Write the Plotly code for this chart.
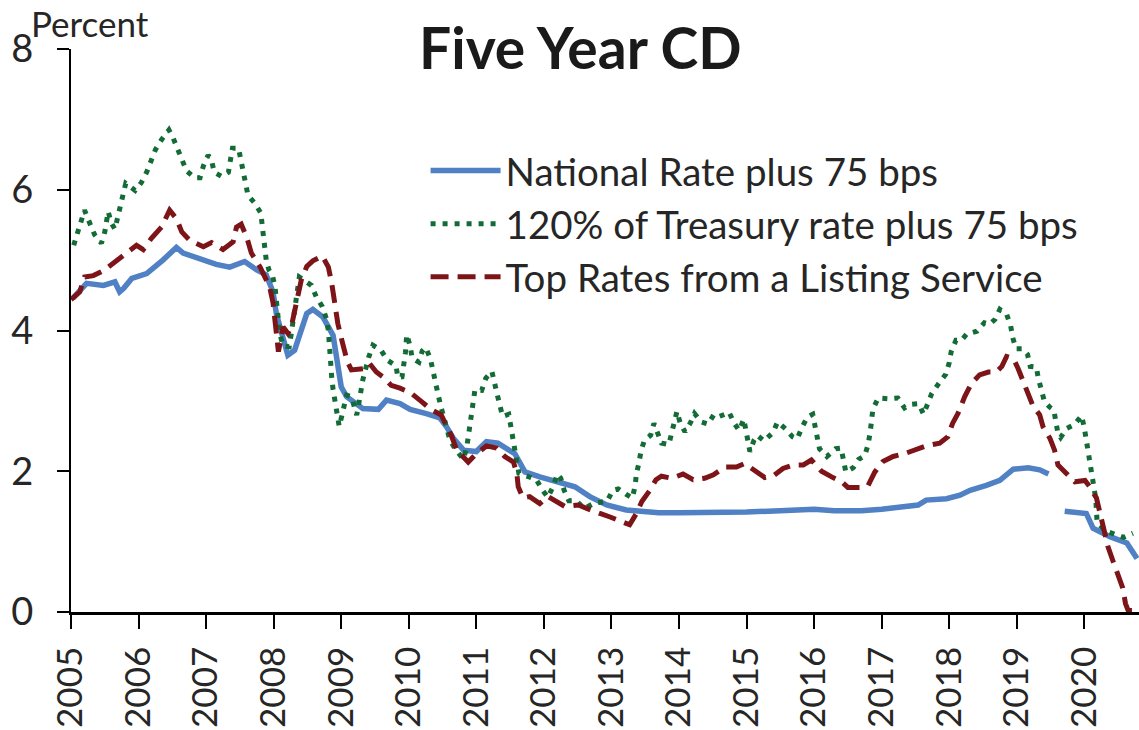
import plotly.graph_objects as go

# ---- data ----
national_x = [2005.03, 2005.23, 2005.48, 2005.65, 2005.72, 2005.78, 2005.9, 2006.12, 2006.36, 2006.56,
              2006.66, 2006.96, 2007.15, 2007.35, 2007.57, 2007.75, 2007.89, 2007.99, 2008.04, 2008.12,
              2008.21, 2008.31, 2008.49, 2008.58, 2008.73, 2008.88, 2008.95, 2009.0, 2009.08, 2009.32,
              2009.55, 2009.67, 2009.87, 2010.02, 2010.26, 2010.46, 2010.56, 2010.66, 2010.81, 2011.0,
              2011.15, 2011.32, 2011.57, 2011.72, 2011.94, 2012.19, 2012.46, 2012.68, 2012.93, 2013.22,
              2013.52, 2013.7, 2014.0, 2014.5, 2015.0, 2015.5, 2016.0, 2016.3, 2016.7, 2017.0,
              2017.3, 2017.54, 2017.66, 2017.96, 2018.16, 2018.31, 2018.55, 2018.75, 2018.95, 2019.17,
              2019.34, 2019.47, 2019.6, 2019.71, 2020.03, 2020.13, 2020.38, 2020.63, 2020.78]
national_y = [4.46, 4.67, 4.64, 4.69, 4.55, 4.60, 4.74, 4.81, 5.00, 5.18,
              5.10, 5.00, 4.94, 4.90, 4.98, 4.86, 4.79, 4.55, 4.24, 3.96,
              3.65, 3.72, 4.24, 4.30, 4.19, 3.93, 3.48, 3.20, 3.06, 2.89,
              2.88, 3.01, 2.96, 2.88, 2.82, 2.76, 2.63, 2.47, 2.30, 2.28,
              2.42, 2.40, 2.25, 1.99, 1.92, 1.85, 1.78, 1.64, 1.52, 1.45,
              1.42, 1.41, 1.41, 1.41, 1.42, 1.44, 1.46, 1.44, 1.44, 1.46,
              1.49, 1.52, 1.59, 1.61, 1.66, 1.73, 1.80, 1.87, 2.03, 2.05,
              2.02, 1.96, None, 1.43, 1.40, 1.19, 1.07, 0.98, 0.76]

treasury_x = [2005.04, 2005.1, 2005.14, 2005.2, 2005.28, 2005.35, 2005.45, 2005.5, 2005.55, 2005.6,
              2005.65, 2005.69, 2005.72, 2005.76, 2005.81, 2005.95, 2006.04, 2006.12, 2006.18, 2006.25,
              2006.34, 2006.45, 2006.51, 2006.57, 2006.64, 2006.71, 2006.83, 2006.91, 2006.96, 2007.03,
              2007.08, 2007.12, 2007.23, 2007.33, 2007.36, 2007.39, 2007.48, 2007.52, 2007.55, 2007.59,
              2007.62, 2007.72, 2007.81, 2007.83, 2007.85, 2007.87, 2007.89, 2007.93, 2007.98, 2008.02,
              2008.04, 2008.05, 2008.09, 2008.14, 2008.23, 2008.26, 2008.3, 2008.32, 2008.38, 2008.56,
              2008.63, 2008.72, 2008.78, 2008.81, 2008.83, 2008.86, 2008.88, 2008.91, 2008.94, 2008.97,
              2009.0, 2009.04, 2009.08, 2009.15, 2009.2, 2009.23, 2009.26, 2009.29, 2009.32, 2009.41,
              2009.47, 2009.59, 2009.68, 2009.81, 2009.84, 2009.9, 2009.93, 2009.95, 2009.97, 2010.02,
              2010.05, 2010.15, 2010.2, 2010.25, 2010.32, 2010.35, 2010.39, 2010.43, 2010.47, 2010.52,
              2010.61, 2010.7, 2010.81, 2010.86, 2010.9, 2010.93, 2010.95, 2010.98, 2011.08, 2011.14,
              2011.23, 2011.26, 2011.31, 2011.35, 2011.39, 2011.48, 2011.51, 2011.54, 2011.57, 2011.61,
              2011.63, 2011.75, 2011.89, 2011.98, 2012.06, 2012.14, 2012.2, 2012.25, 2012.3, 2012.37,
              2012.48, 2012.6, 2012.75, 2012.85, 2012.94, 2013.02, 2013.1, 2013.22, 2013.31, 2013.35,
              2013.37, 2013.41, 2013.44, 2013.49, 2013.58, 2013.63, 2013.68, 2013.74, 2013.85, 2013.9,
              2013.94, 2013.97, 2014.02, 2014.09, 2014.17, 2014.23, 2014.33, 2014.43, 2014.52, 2014.6,
              2014.68, 2014.74, 2014.82, 2014.89, 2014.96, 2014.99, 2015.01, 2015.05, 2015.11, 2015.16,
              2015.26, 2015.39, 2015.46, 2015.58, 2015.68, 2015.75, 2015.82, 2015.9, 2015.98, 2016.01,
              2016.04, 2016.08, 2016.19, 2016.32, 2016.4, 2016.43, 2016.47, 2016.58, 2016.66, 2016.75,
              2016.8, 2016.83, 2016.85, 2016.87, 2016.95, 2017.1, 2017.24, 2017.34, 2017.43, 2017.55,
              2017.62, 2017.68, 2017.74, 2017.84, 2017.95, 2018.0, 2018.03, 2018.1, 2018.18, 2018.26,
              2018.41, 2018.52, 2018.6, 2018.68, 2018.75, 2018.85, 2018.91, 2018.94, 2018.99, 2019.09,
              2019.16, 2019.2, 2019.29, 2019.32, 2019.36, 2019.41, 2019.49, 2019.55, 2019.58, 2019.61,
              2019.65, 2019.74, 2019.85, 2019.96, 2020.0, 2020.03, 2020.06, 2020.09, 2020.11, 2020.14,
              2020.17, 2020.18, 2020.19, 2020.32, 2020.46, 2020.58, 2020.72]
treasury_y = [5.21, 5.38, 5.54, 5.71, 5.52, 5.36, 5.24, 5.40, 5.69, 5.52,
              5.44, 5.60, 5.77, 5.93, 6.09, 5.99, 6.10, 6.25, 6.41, 6.57,
              6.71, 6.85, 6.74, 6.59, 6.42, 6.27, 6.17, 6.17, 6.34, 6.49,
              6.42, 6.25, 6.19, 6.25, 6.42, 6.59, 6.59, 6.42, 6.25, 6.09,
              5.92, 5.81, 5.67, 5.50, 5.33, 5.17, 5.00, 4.86, 4.79, 4.62,
              4.40, 4.20, 3.96, 3.78, 3.77, 3.95, 4.20, 4.44, 4.76, 4.64,
              4.48, 4.34, 4.17, 4.00, 3.67, 3.33, 3.16, 2.99, 2.80, 2.64,
              2.75, 2.92, 3.08, 3.06, 2.89, 2.80, 2.96, 3.13, 3.30, 3.63,
              3.79, 3.72, 3.58, 3.50, 3.33, 3.34, 3.52, 3.68, 3.94, 3.78,
              3.61, 3.55, 3.71, 3.76, 3.60, 3.44, 3.26, 3.11, 2.94, 2.77,
              2.44, 2.30, 2.17, 2.35, 2.66, 2.83, 3.00, 3.16, 3.15, 3.32,
              3.42, 3.26, 3.09, 2.93, 2.78, 2.81, 2.64, 2.48, 2.31, 2.14,
              1.97, 1.93, 1.88, 1.73, 1.63, 1.79, 1.96, 1.90, 1.73, 1.58,
              1.58, 1.47, 1.55, 1.56, 1.58, 1.73, 1.75, 1.67, 1.62, 1.79,
              1.96, 2.13, 2.30, 2.44, 2.51, 2.68, 2.56, 2.40, 2.38, 2.55,
              2.70, 2.85, 2.68, 2.56, 2.69, 2.82, 2.70, 2.67, 2.81, 2.78,
              2.81, 2.84, 2.68, 2.58, 2.74, 2.58, 2.40, 2.28, 2.44, 2.51,
              2.43, 2.55, 2.70, 2.60, 2.49, 2.46, 2.62, 2.77, 2.81, 2.65,
              2.48, 2.32, 2.21, 2.32, 2.33, 2.16, 1.99, 2.05, 2.17, 2.22,
              2.38, 2.55, 2.71, 2.88, 3.04, 3.03, 3.04, 2.90, 2.95, 2.96,
              2.81, 2.94, 3.10, 3.24, 3.38, 3.54, 3.70, 3.86, 3.86, 3.95,
              3.99, 4.11, 4.09, 4.16, 4.30, 4.23, 4.07, 3.90, 3.74, 3.74,
              3.66, 3.49, 3.48, 3.32, 3.15, 2.99, 2.91, 2.87, 2.70, 2.54,
              2.48, 2.61, 2.66, 2.79, 2.62, 2.45, 2.29, 2.12, 1.95, 1.77,
              1.61, 1.44, 1.27, 1.15, 1.10, 1.06, 1.12]

listing_x = [2005.0, 2005.13, 2005.2, 2005.33, 2005.48, 2005.62, 2005.8, 2005.97, 2006.07, 2006.19,
             2006.34, 2006.46, 2006.56, 2006.64, 2006.76, 2006.96, 2007.08, 2007.25, 2007.4, 2007.45,
             2007.52, 2007.6, 2007.67, 2007.8, 2007.89, 2007.94, 2007.99, 2008.02, 2008.04, 2008.07,
             2008.14, 2008.21, 2008.26, 2008.34, 2008.41, 2008.49, 2008.58, 2008.72, 2008.81, 2008.86,
             2008.91, 2008.95, 2009.02, 2009.09, 2009.15, 2009.35, 2009.42, 2009.52, 2009.62, 2009.74,
             2009.87, 2010.02, 2010.19, 2010.34, 2010.48, 2010.58, 2010.63, 2010.71, 2010.78, 2010.88,
             2010.98, 2011.15, 2011.3, 2011.42, 2011.55, 2011.6, 2011.62, 2011.69, 2011.79, 2011.94,
             2012.06, 2012.19, 2012.31, 2012.51, 2012.63, 2012.83, 2012.98, 2013.15, 2013.27, 2013.37,
             2013.45, 2013.57, 2013.66, 2013.74, 2013.89, 2014.06, 2014.21, 2014.38, 2014.51, 2014.68,
             2014.85, 2014.97, 2015.12, 2015.27, 2015.39, 2015.54, 2015.69, 2015.84, 2015.96, 2016.11,
             2016.26, 2016.41, 2016.5, 2016.7, 2016.8, 2016.9, 2017.02, 2017.17, 2017.34, 2017.52,
             2017.66, 2017.86, 2017.98, 2018.05, 2018.13, 2018.23, 2018.33, 2018.45, 2018.58, 2018.7,
             2018.78, 2018.85, 2018.95, 2019.02, 2019.1, 2019.17, 2019.24, 2019.34, 2019.39, 2019.49,
             2019.56, 2019.61, 2019.74, 2019.86, 2020.01, 2020.08, 2020.18, 2020.23, 2020.28, 2020.35,
             2020.43, 2020.5, 2020.57, 2020.61, 2020.65, 2020.78]
listing_y = [4.44, 4.55, 4.76, 4.78, 4.85, 4.95, 5.07, 5.21, 5.15, 5.31,
             5.47, 5.71, 5.59, 5.40, 5.28, 5.19, 5.25, 5.15, 5.26, 5.47,
             5.51, 5.33, 5.10, 4.90, 4.72, 4.62, 4.40, 4.10, 3.82, 3.70,
             4.05, 3.96, 4.05, 4.43, 4.72, 4.91, 4.99, 5.06, 4.90, 4.67,
             4.38, 4.10, 3.82, 3.56, 3.44, 3.46, 3.53, 3.41, 3.34, 3.22,
             3.18, 3.12, 2.99, 2.87, 2.80, 2.63, 2.51, 2.30, 2.23, 2.13,
             2.23, 2.36, 2.33, 2.21, 2.13, 1.97, 1.78, 1.62, 1.64, 1.54,
             1.64, 1.57, 1.50, 1.52, 1.47, 1.40, 1.35, 1.28, 1.24, 1.40,
             1.57, 1.73, 1.88, 1.93, 1.90, 1.96, 1.88, 1.90, 1.95, 2.06,
             2.06, 2.11, 2.02, 1.91, 1.93, 2.04, 2.09, 2.09, 2.16, 2.00,
             1.92, 1.85, 1.77, 1.77, 1.80, 1.99, 2.14, 2.21, 2.25, 2.32,
             2.36, 2.40, 2.49, 2.68, 2.82, 3.06, 3.25, 3.37, 3.41, 3.41,
             3.49, 3.63, 3.60, 3.46, 3.27, 3.06, 2.93, 2.80, 2.63, 2.47,
             2.30, 2.09, 1.97, 1.85, 1.87, 1.78, 1.62, 1.40, 1.19, 0.93,
             0.71, 0.50, 0.34, 0.12, 0.02, 0.02]

year_ticks = list(range(2005, 2021))
y_ticks = [0, 2, 4, 6, 8]

FONT = "Lato"
TXT = "#262626"

fig = go.Figure()
fig.add_trace(go.Scatter(x=national_x, y=national_y, mode="lines", name="National Rate plus 75 bps",
                         line=dict(color="#4F81C4", width=5.5), connectgaps=False))
fig.add_trace(go.Scatter(x=treasury_x, y=treasury_y, mode="lines", name="120% of Treasury rate plus 75 bps",
                         line=dict(color="#136B36", width=5, dash="5px,7px")))
fig.add_trace(go.Scatter(x=listing_x, y=listing_y, mode="lines", name="Top Rates from a Listing Service",
                         line=dict(color="#7D1518", width=5, dash="18px,9px")))

fig.update_layout(
    width=1139, height=730,
    margin=dict(l=71, r=0, t=49, b=118),
    paper_bgcolor="white", plot_bgcolor="white",
    font=dict(family=FONT, color=TXT),
    showlegend=True,
    legend=dict(x=0.332, y=0.84, xanchor="left", yanchor="top",
                bgcolor="rgba(0,0,0,0)", font=dict(size=38.5, family=FONT, color=TXT),
                itemwidth=70, tracegroupgap=0),
    xaxis=dict(range=[2005, 2020.81], tickmode="array", tickvals=year_ticks,
               ticktext=[str(t) for t in year_ticks], tickangle=-90,
               showgrid=False, zeroline=False, showline=True, linecolor="black", linewidth=2.5,
               ticks="outside", ticklen=14, tickwidth=1.5, tickcolor="black",
               tickfont=dict(size=35, family=FONT, color=TXT), ticklabelstandoff=4),
    yaxis=dict(range=[0, 8], tickmode="array", tickvals=y_ticks,
               showgrid=False, zeroline=False, showline=True, linecolor="black", linewidth=2,
               ticks="outside", ticklen=12, tickwidth=1.5, tickcolor="black",
               tickfont=dict(size=38, family=FONT, color=TXT), ticklabelstandoff=16),
    annotations=[
        dict(text="<b>Five Year CD</b>", xref="paper", yref="paper", x=0.4766, y=1.004,
             xanchor="center", yanchor="middle", showarrow=False,
             font=dict(size=57, family=FONT, color="#1a1a1a")),
        dict(text="Percent", xref="paper", yref="paper", x=-0.039, y=1.047,
             xanchor="left", yanchor="middle", showarrow=False,
             font=dict(size=35, family=FONT, color=TXT)),
    ],
)

fig.write_html("out.html", config={"displayModeBar": False},
               post_script="document.body.style.margin='0';document.body.style.padding='0';")
